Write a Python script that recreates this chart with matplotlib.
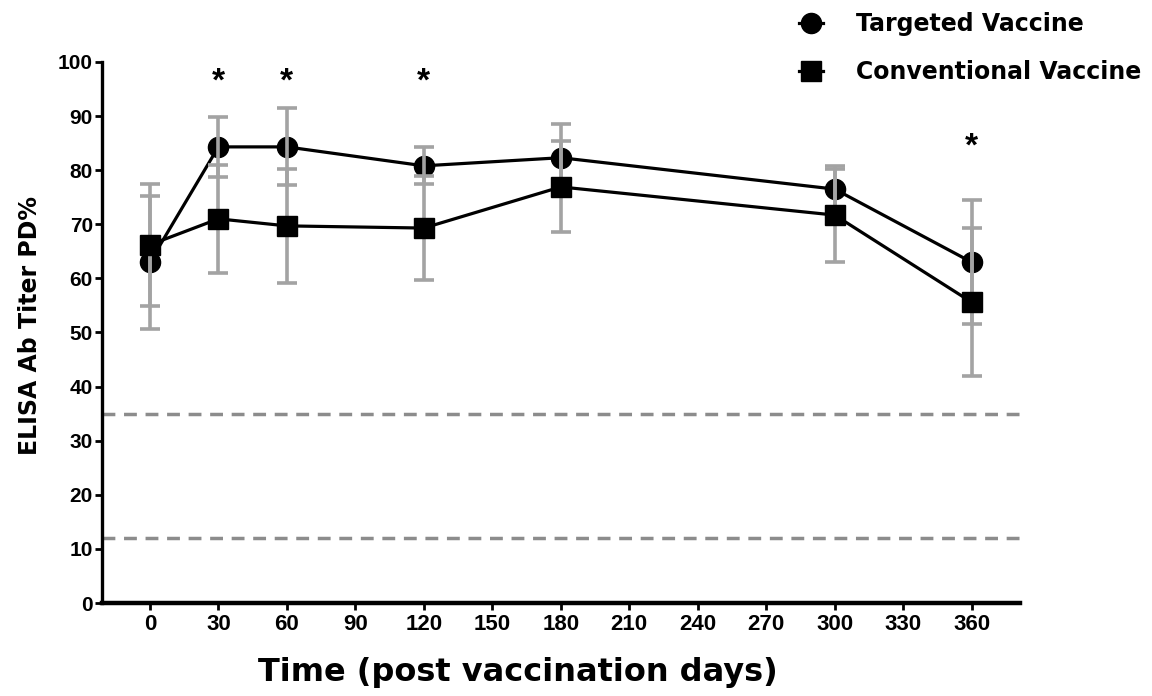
import matplotlib.pyplot as plt
import numpy as np

plt.rcParams['font.family'] = ['Liberation Sans', 'DejaVu Sans']
plt.rcParams['font.weight'] = 'bold'

days = [0, 30, 60, 120, 180, 300, 360]
targeted = [63.0, 84.3, 84.3, 80.8, 82.3, 76.5, 63.0]
targeted_sd = [12.3, 5.6, 7.1, 3.4, 6.2, 4.3, 11.5]
conventional = [66.2, 71.0, 69.7, 69.3, 76.9, 71.7, 55.6]
conventional_sd = [11.3, 10.0, 10.5, 9.6, 8.4, 8.6, 13.7]
star_days = [30, 60, 120, 360]
star_y = [96.2, 96.2, 96.2, 84.2]
cutoffs = [35, 12]
xticks = list(range(0, 361, 30))
yticks = list(range(0, 101, 10))

fig = plt.figure(figsize=(11.52, 6.96), dpi=100)
ax = fig.add_axes([0.0885, 0.1336, 0.7965, 0.7774])

gray = '#a3a3a3'
ax.errorbar(days, targeted, yerr=targeted_sd, fmt='none', ecolor=gray,
            elinewidth=2.6, capsize=7.5, capthick=2.6, zorder=3)
ax.errorbar(days, conventional, yerr=conventional_sd, fmt='none', ecolor=gray,
            elinewidth=2.6, capsize=7.5, capthick=2.6, zorder=3)
ax.plot(days, targeted, color='black', lw=2.3, marker='o', ms=14.5,
        label='Targeted Vaccine', zorder=2)
ax.plot(days, conventional, color='black', lw=2.3, marker='s', ms=14.5,
        label='Conventional Vaccine', zorder=4)

for y in cutoffs:
    ax.axhline(y, color='#8c8c8c', lw=2.5, ls=(0, (3.7, 2.5)), zorder=1)

# significance marks
for d, y in zip(star_days, star_y):
    ax.text(d, y, '*', ha='center', va='center', fontsize=24, fontweight='bold')

ax.set_xlim(-21, 381)
ax.set_ylim(0, 100)
ax.set_xticks(xticks)
ax.set_yticks(yticks)
ax.tick_params(axis='both', width=2, length=5, direction='out')
ax.tick_params(axis='x', pad=3, labelsize=16)
ax.tick_params(axis='y', pad=1.5, labelsize=15)
for lab in ax.get_xticklabels() + ax.get_yticklabels():
    lab.set_fontweight('bold')

for s in ['top', 'right']:
    ax.spines[s].set_visible(False)
ax.spines['left'].set_linewidth(2.4)
ax.spines['bottom'].set_linewidth(3.2)

ax.set_xlabel('Time (post vaccination days)', fontsize=23, fontweight='bold',
              family='DejaVu Sans')
ax.set_ylabel('ELISA Ab Titer PD%', fontsize=17, fontweight='bold',
              family='DejaVu Sans')
ax.xaxis.set_label_coords(0.453, -0.1)
ax.yaxis.set_label_coords(-0.0654, 0.512)

leg = ax.legend(loc='upper left', bbox_to_anchor=(0.7365, 1.132), frameon=False,
                prop={'family': 'DejaVu Sans', 'weight': 'bold', 'size': 17},
                handlelength=1.0, handletextpad=1.4,
                labelspacing=1.03, markerscale=1.0)

fig.savefig('out.png', dpi=100)
